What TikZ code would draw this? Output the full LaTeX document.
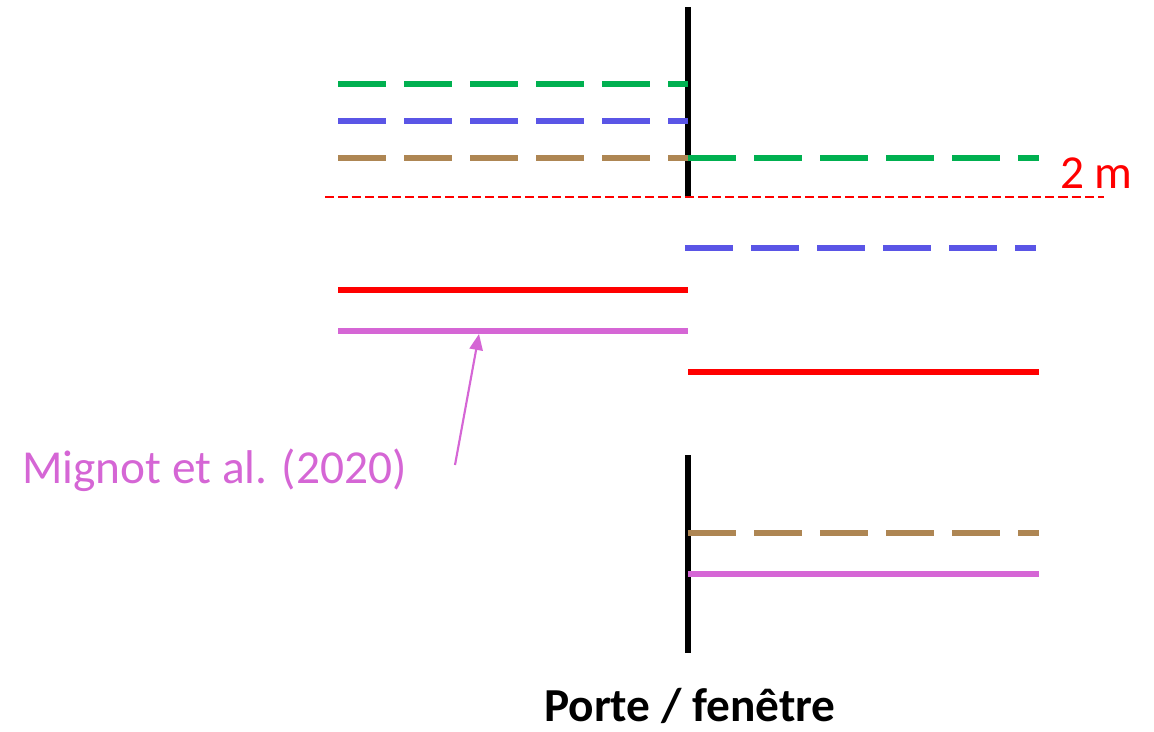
\documentclass[tikz,border=0pt]{standalone}
\usepackage{fontspec}
\setmainfont{Carlito}
\usetikzlibrary{arrows.meta}
\definecolor{hgreen}{HTML}{00B050}
\definecolor{hblue}{HTML}{5A55E6}
\definecolor{hbrown}{HTML}{AE8653}
\definecolor{hpink}{HTML}{D566D5}
\definecolor{hred}{HTML}{FF0000}
\tikzset{
    level/.style={line width=4pt},
    dashlevel/.style={level, dash pattern=on 36pt off 13.5pt},
    wall/.style={line width=4.2pt, black},
    bigtext/.style={inner sep=0pt, font=\fontsize{35.5}{40}\selectfont}
}
\begin{document}
\begin{tikzpicture}[x=0.75pt, y=-0.75pt]
    \useasboundingbox (0,0) rectangle (1154,732);

    % Draw the door / window walls
    \draw[wall] (688,7) -- (688,197);
    \draw[wall] (688,455) -- (688,653);

    % 2 m reference line
    \draw[hred, line width=0.8pt, dash pattern=on 7pt off 3pt] (325,197) -- (1104,197);
    \node[bigtext, hred, anchor=base west] (twom) at (1060,188) {2 m};

    % Levels on the left side
    \draw[dashlevel, hgreen] (338,84) -- (688,84);
    \draw[dashlevel, hblue] (338,121) -- (688,121);
    \draw[dashlevel, hbrown] (338,158) -- (688,158);
    \draw[level, hred] (338,290) -- (688,290);
    \draw[level, hpink] (338,331) -- (688,331);

    % Levels on the right side
    \draw[dashlevel, hgreen] (688,158) -- (1039,158);
    \draw[dashlevel, hblue] (685,248) -- (1036,248);
    \draw[level, hred] (688,372) -- (1039,372);
    \draw[dashlevel, hbrown] (688,533) -- (1039,533);
    \draw[level, hpink] (688,574) -- (1039,574);

    % Add source label and arrow
    \node[bigtext, hpink, anchor=base west] (mignot) at (22,483) {Mignot et al. (2020)};
    \coordinate (pinkline) at (479,334);
    \draw[hpink, line width=1.6pt, -{Triangle[length=12pt, width=10pt]}] (455,465) -- (pinkline);

    % Caption
    \node[bigtext, font=\bfseries\fontsize{35.5}{40}\selectfont, anchor=base] (caption) at (690,721) {Porte / fenêtre};
\end{tikzpicture}
\end{document}
